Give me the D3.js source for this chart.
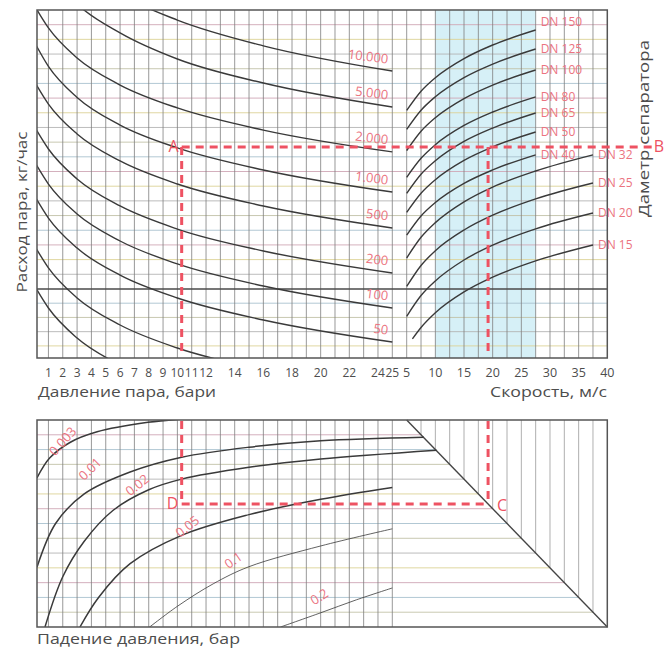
<!DOCTYPE html>
<html>
<head>
<meta charset="utf-8">
<script src="https://cdn.jsdelivr.net/npm/d3@7.9.0/dist/d3.min.js"></script>
<style>
  body { margin: 0; background: #fff; }
  svg { display: block; }
  text { font-family: "Open Sans", "DejaVu Sans", sans-serif; }
</style>
</head>
<body>
<svg id="chart" width="665" height="648"></svg>
<script>
// ---- data ----
const pressureTicks = [1, 2, 3, 4, 5, 6, 7, 8, 9, 10, 11, 12, 14, 16, 18, 20, 22, 24, 25];
const velocityTicks = [5, 10, 15, 20, 25, 30, 35, 40];

// steam flow curves: volume flow (m3/h) at these pressures (bar)
const curvePressures = [0, 1, 3, 6, 10, 16, 25];
const steamFlows = [10000, 5000, 2000, 1000, 500, 200, 100, 50, 20, 10];
const steamFlowLabels = ["10.000", "5.000", "2.000", "1.000", "500", "200", "100", "50", "", ""];
const steamVolumes = [
  [19000, 11500, 5790, 3160, 1900, 1150, 703],
  [8220, 4950, 2600, 1480, 889, 556, 348],
  [2550, 1630, 906, 535, 342, 222, 145],
  [1250, 770, 420, 245, 157, 102, 66.3],
  [579, 369, 206, 121.5, 77.5, 50.5, 32.9],
  [240, 153.5, 85.5, 50.5, 32.2, 21.0, 13.66],
  [121.5, 77.5, 43.2, 25.5, 16.3, 10.6, 6.9],
  [62.6, 39.9, 22.2, 13.1, 8.39, 5.46, 3.55],
  [23.6, 15.1, 8.39, 4.95, 3.16, 2.06, 1.34],
  [10.8, 6.9, 3.84, 2.27, 1.45, 0.94, 0.61]
];

// separator size curves: velocity (m/s) -> volume flow (m3/h)
const pipeSizes = ["DN 150", "DN 125", "DN 100", "DN 80", "DN 65", "DN 50", "DN 40", "DN 32", "DN 25", "DN 20", "DN 15"];
const pipeVelocities = [
  [5, 7.5, 10, 15, 20, 27.5],
  [5, 7.5, 10, 15, 20, 27.5],
  [5, 7.5, 10, 15, 20, 27.5],
  [5, 7.5, 10, 15, 20, 27.5],
  [5, 7.5, 10, 15, 20, 27.5],
  [5, 7.5, 10, 15, 20, 27.5],
  [5, 7.5, 10, 15, 20, 27.5],
  [5, 7.5, 10, 15, 20, 27.5, 37.5],
  [5, 7.5, 10, 15, 20, 27.5, 37.5],
  [5, 7.5, 10, 15, 20, 27.5, 37.5],
  [6, 7.5, 10, 15, 20, 27.5, 37.5]
];
const pipeVolumes = [
  [326, 474, 617, 896, 1168, 1565],
  [225, 327, 426, 619, 806, 1080],
  [149, 217, 283, 411, 535, 717],
  [88.4, 128, 167, 243, 316, 424],
  [64.6, 93.8, 122, 178, 231, 310],
  [44.6, 64.8, 84.4, 123, 160, 214],
  [28.6, 41.5, 54.0, 78.5, 102, 137],
  [18.3, 27.4, 36.5, 54.8, 73.1, 100, 137],
  [10.5, 15.8, 21.1, 31.6, 42.2, 58.0, 79.1],
  [5.87, 8.8, 11.7, 17.6, 23.5, 32.3, 44.0],
  [3.78, 4.72, 6.29, 9.44, 12.6, 17.3, 23.6]
];

// pressure drop curves: pressure (bar) -> velocity (m/s)
const dropLabels = ["0.003", "0.01", "0.02", "0.05", "0.1", "0.2"];
const dropPressures = [
  [0.2, 1.1, 2.5, 4.4, 7.95, 10],
  [0.2, 1.5, 3.5, 6.7, 10.3, 15, 20, 27.2],
  [0.76, 2, 3.5, 5.5, 8, 10.3, 15, 20, 28.1],
  [3.2, 4.5, 6.7, 10.3, 15, 20, 25],
  [7.8, 10, 12.5, 15, 20, 25],
  [17.2, 20, 22.5, 25]
];
const dropVelocities = [
  [14.8, 11.4, 8.8, 7.0, 5.4, 4.9],
  [29.9, 22.5, 17.5, 13.8, 11.3, 9.6, 8.5, 7.9],
  [40, 31.5, 25.5, 20.3, 16.8, 15.0, 13.0, 11.6, 10.1],
  [40, 35, 29.3, 24.5, 21.0, 18.4, 16.4],
  [40.5, 36.5, 32.7, 29.8, 26.3, 23.4],
  [40, 37.6, 35.4, 33.4]
];
const dropWidths = [1.5, 1.5, 1.5, 1.5, 0.8, 0.8];

const referenceFlow = 10;        // dark horizontal line
const blueBand = [10, 27.5];     // recommended velocity range, m/s
const examplePressure = 10.3;
const exampleFlow = 160;
const exampleVelocity = 19.2;

// ---- scales ----
const svg = d3.select("#chart");
const xP = d3.scaleLinear().domain([0, 25]).range([34.1, 392.3]);
const xV = d3.scaleLinear().domain([5, 40]).range([406.7, 607.3]);
const yQ = d3.scaleLog().domain([2.6, 2313]).range([358, 10]);
const yB = d3.scaleLinear().domain([5, 40]).range([420, 627]);

const L = 37, R = xV(40), T = 10, Bt = 358, T2 = 420, B2 = 627;
const red = "#ee5262", pink = "#eb7380";
const rowColors = ["#b4b4b4", "#dcd296", "#cfa7b6", "#a9c2cf", "#c2c2a8"];

const defs = svg.append("defs");
defs.append("clipPath").attr("id", "clipTop")
  .append("rect").attr("x", L).attr("y", T).attr("width", R - L).attr("height", Bt - T);
defs.append("clipPath").attr("id", "clipBot")
  .append("rect").attr("x", L).attr("y", T2).attr("width", R - L).attr("height", B2 - T2);

// ---- top panel ----
const gTop = svg.append("g");
gTop.append("rect")
  .attr("x", xV(blueBand[0])).attr("y", T)
  .attr("width", xV(blueBand[1]) - xV(blueBand[0])).attr("height", Bt - T)
  .attr("fill", "#d6f0f7");

// horizontal rows anchored on the reference line
const yRef = yQ(referenceFlow);
const rows = [];
for (let k = 1; k < 19; k++) rows.push(yRef - k * (yRef - T) / 19);
for (let k = 1; k < 5; k++) rows.push(yRef + k * (Bt - yRef) / 4.85);
gTop.selectAll(".row").data(rows).enter().append("line")
  .attr("x1", L).attr("x2", R).attr("y1", d => d).attr("y2", d => d)
  .attr("stroke", (d, i) => rowColors[i % rowColors.length]).attr("stroke-width", 0.9);

const colsP = d3.range(1, 26).map(p => xP(p));
const colsV = d3.range(5, 40, 2.5).map(v => xV(v));
gTop.selectAll(".col").data(colsP.concat(colsV)).enter().append("line")
  .attr("x1", d => d).attr("x2", d => d).attr("y1", T).attr("y2", Bt)
  .attr("stroke", "#7d7d7d").attr("stroke-width", 0.8);

gTop.append("line")
  .attr("x1", L).attr("x2", R).attr("y1", yRef).attr("y2", yRef)
  .attr("stroke", "#4a4a4a").attr("stroke-width", 1.4);

const lineP = d3.line().x(d => xP(d[0])).y(d => yQ(d[1])).curve(d3.curveMonotoneX);
const lineV = d3.line().x(d => xV(d[0])).y(d => yQ(d[1])).curve(d3.curveMonotoneX);

const curvesTop = gTop.append("g").attr("clip-path", "url(#clipTop)");
steamFlows.forEach((m, i) => {
  const pts = curvePressures.map((p, j) => [p, steamVolumes[i][j]]);
  curvesTop.append("path").attr("d", lineP(pts))
    .attr("fill", "none").attr("stroke", "#3a3a3a").attr("stroke-width", 1.4);
});
pipeSizes.forEach((dn, i) => {
  const pts = pipeVelocities[i].map((v, j) => [v, pipeVolumes[i][j]]);
  curvesTop.append("path").attr("d", lineV(pts))
    .attr("fill", "none").attr("stroke", "#3a3a3a").attr("stroke-width", 1.4);
});

gTop.append("rect").attr("x", L).attr("y", T).attr("width", R - L).attr("height", Bt - T)
  .attr("fill", "none").attr("stroke", "#555").attr("stroke-width", 1.5);

// flow labels
steamFlowLabels.forEach((lab, i) => {
  if (!lab) return;
  const x = xP(25) - 4, y = yQ(steamVolumes[i][6]) - 12;
  gTop.append("text").text(lab)
    .attr("transform", `translate(${x},${y}) rotate(7)`)
    .attr("text-anchor", "end").attr("dy", "0.35em")
    .attr("font-size", 13).attr("fill", pink);
});
// DN labels
pipeSizes.forEach((dn, i) => {
  const n = pipeVelocities[i].length - 1;
  const x = xV(pipeVelocities[i][n]) + 5;
  const y = yQ(pipeVolumes[i][n]) - (i === 0 ? 8 : 0);
  gTop.append("text").text(dn).attr("x", x).attr("y", y).attr("dy", "0.35em")
    .attr("font-size", 12).attr("fill", pink);
});

// axis ticks
svg.selectAll(".pt").data(pressureTicks).enter().append("text")
  .attr("x", d => xP(d)).attr("y", 377).attr("text-anchor", "middle")
  .attr("font-size", 12).attr("fill", "#4d4d4d").text(d => d);
svg.selectAll(".vt").data(velocityTicks).enter().append("text")
  .attr("x", d => xV(d)).attr("y", 377).attr("text-anchor", "middle")
  .attr("font-size", 12.5).attr("fill", "#4d4d4d").text(d => d);

svg.append("text").attr("x", 38).attr("y", 397).attr("font-size", 14.5).attr("fill", "#4d4d4d")
  .attr("textLength", 178).attr("lengthAdjust", "spacingAndGlyphs").text("Давление пара, бари");
svg.append("text").attr("x", 490).attr("y", 397).attr("font-size", 14.5).attr("fill", "#4d4d4d")
  .attr("textLength", 117).attr("lengthAdjust", "spacingAndGlyphs").text("Скорость, м/с");
svg.append("text").attr("transform", "translate(27,212) rotate(-90)").attr("text-anchor", "middle")
  .attr("font-size", 15).attr("fill", "#4d4d4d")
  .attr("textLength", 161).attr("lengthAdjust", "spacingAndGlyphs").text("Расход пара, кг/час");
svg.append("text").attr("transform", "translate(649,128.5) rotate(-90)").attr("text-anchor", "middle")
  .attr("font-size", 15).attr("fill", "#4d4d4d")
  .attr("textLength", 177).attr("lengthAdjust", "spacingAndGlyphs").text("Даметр сепаратора");

// ---- bottom panel ----
const gBot = svg.append("g");
const vRows = d3.range(7.5, 40, 2.5);
gBot.selectAll(".brow").data(vRows).enter().append("line")
  .attr("x1", L).attr("x2", d => xV(d)).attr("y1", d => yB(d)).attr("y2", d => yB(d))
  .attr("stroke", (d, i) => rowColors[(i + 2) % rowColors.length]).attr("stroke-width", 0.9);
gBot.selectAll(".bcol").data(d3.range(1, 26)).enter().append("line")
  .attr("x1", d => xP(d)).attr("x2", d => xP(d)).attr("y1", T2).attr("y2", B2)
  .attr("stroke", "#7d7d7d").attr("stroke-width", 0.8);
gBot.selectAll(".bvcol").data(vRows).enter().append("line")
  .attr("x1", d => xV(d)).attr("x2", d => xV(d)).attr("y1", T2).attr("y2", d => yB(d))
  .attr("stroke", "#9a9a9a").attr("stroke-width", 0.8);
gBot.append("line")
  .attr("x1", xV(5)).attr("y1", yB(5)).attr("x2", xV(40)).attr("y2", yB(40))
  .attr("stroke", "#444").attr("stroke-width", 1.4);

const lineD = d3.line().x(d => xP(d[0])).y(d => yB(d[1])).curve(d3.curveCatmullRom.alpha(0.5));
const curvesBot = gBot.append("g").attr("clip-path", "url(#clipBot)");
dropLabels.forEach((lab, i) => {
  const pts = dropPressures[i].map((p, j) => [p, dropVelocities[i][j]]);
  curvesBot.append("path").attr("d", lineD(pts))
    .attr("fill", "none").attr("stroke", "#3a3a3a").attr("stroke-width", dropWidths[i]);
});
gBot.append("rect").attr("x", L).attr("y", T2).attr("width", R - L).attr("height", B2 - T2)
  .attr("fill", "none").attr("stroke", "#555").attr("stroke-width", 1.5);

// drop labels placed above their curves
const dropLabelAt = [[2.0, 8.6], [3.9, 13.3], [7.2, 16.0], [10.7, 23.0], [13.9, 28.7], [19.9, 34.9]];
const dropAngles = [-48, -44, -38, -38, -35, -32];
dropLabels.forEach((lab, i) => {
  const x = xP(dropLabelAt[i][0]), y = yB(dropLabelAt[i][1]);
  gBot.append("text").text(lab)
    .attr("transform", `translate(${x},${y}) rotate(${dropAngles[i]})`)
    .attr("text-anchor", "middle").attr("dy", "0.35em")
    .attr("font-size", 13).attr("fill", pink);
});

svg.append("text").attr("x", 37).attr("y", 644).attr("font-size", 15).attr("fill", "#4d4d4d")
  .attr("textLength", 203).attr("lengthAdjust", "spacingAndGlyphs").text("Падение давления, бар");

// ---- example route A-B-C-D ----
const gEx = svg.append("g").attr("stroke", red).attr("stroke-width", 3)
  .attr("stroke-dasharray", "8,6").attr("fill", "none");
const ax = xP(examplePressure), ay = yQ(exampleFlow), vx = xV(exampleVelocity), dy = yB(exampleVelocity);
gEx.append("line").attr("x1", ax).attr("y1", ay).attr("x2", 652).attr("y2", ay);
gEx.append("line").attr("x1", ax).attr("y1", ay).attr("x2", ax).attr("y2", Bt - 2);
gEx.append("line").attr("x1", vx).attr("y1", ay).attr("x2", vx).attr("y2", Bt - 2);
gEx.append("line").attr("x1", ax).attr("y1", T2 + 1).attr("x2", ax).attr("y2", dy);
gEx.append("line").attr("x1", vx).attr("y1", T2 + 1).attr("x2", vx).attr("y2", dy);
gEx.append("line").attr("x1", ax).attr("y1", dy).attr("x2", vx).attr("y2", dy);

const letters = [["A", ax - 8, ay], ["B", 659, ay], ["C", vx + 14, dy + 1], ["D", ax - 9, dy - 1]];
letters.forEach(([t, x, y]) => {
  svg.append("text").text(t).attr("x", x).attr("y", y).attr("dy", "0.35em")
    .attr("text-anchor", "middle").attr("font-size", 16).attr("fill", red);
});
</script>
</body>
</html>
